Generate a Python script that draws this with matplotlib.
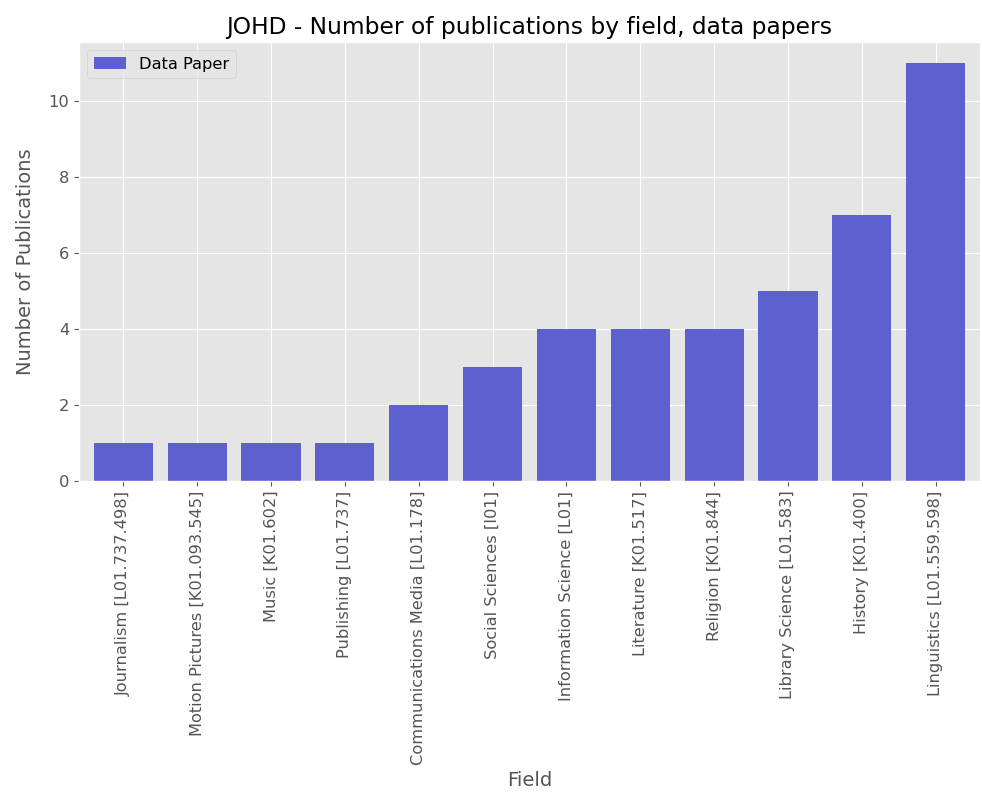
import matplotlib
matplotlib.use("Agg")
import matplotlib.pyplot as plt

plt.style.use("ggplot")
plt.rcParams["font.size"] = 11.7

fields = ["Journalism [L01.737.498]", "Motion Pictures [K01.093.545]", "Music [K01.602]",
          "Publishing [L01.737]", "Communications Media [L01.178]", "Social Sciences [I01]",
          "Information Science [L01]", "Literature [K01.517]", "Religion [K01.844]",
          "Library Science [L01.583]", "History [K01.400]", "Linguistics [L01.559.598]"]
counts = [1, 1, 1, 1, 2, 3, 4, 4, 4, 5, 7, 11]

fig = plt.figure(figsize=(9.82, 7.96), dpi=100)
ax = fig.add_axes([79/982, 1-481/796, 901/982, 439/796])
ax.bar(range(len(fields)), counts, width=0.8, color="#5d60cf", label="Data Paper")
ax.set_xlim(-0.6, len(fields) - 0.4)
ax.set_xticks(range(len(fields)))
ax.set_xticklabels(fields, rotation=90)
ax.set_xlabel("Field")
ax.set_ylabel("Number of Publications", labelpad=10)
ax.set_title("JOHD - Number of publications by field, data papers")
ax.legend(loc="upper left")
fig.savefig("out.png", dpi=100)
